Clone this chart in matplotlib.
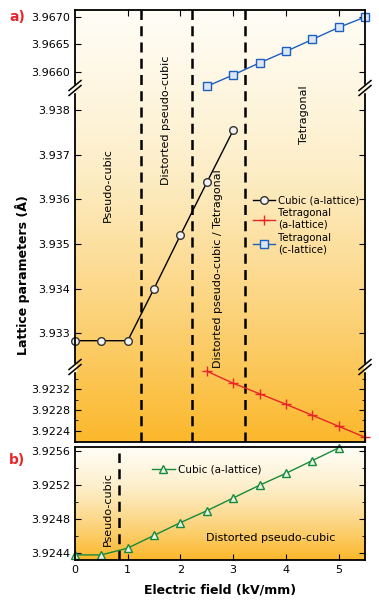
import numpy as np
import matplotlib
matplotlib.use('Agg')
import matplotlib.pyplot as plt
from matplotlib.colors import LinearSegmentedColormap
from matplotlib.lines import Line2D

# ── data ──────────────────────────────────────
field_cubic = [0, 0.5, 1.0, 1.5, 2.0, 2.5, 3.0]
cubic_a     = [3.93283, 3.93283, 3.93283, 3.93400, 3.93520, 3.93638, 3.93755]

field_tet   = [2.5, 3.0, 3.5, 4.0, 4.5, 5.0, 5.5]
tet_c       = [3.96573, 3.96594, 3.96616, 3.96637, 3.96659, 3.96681, 3.96700]
tet_a       = [3.92354, 3.92331, 3.92311, 3.92291, 3.92270, 3.92249, 3.92228]

field_b     = [0, 0.5, 1.0, 1.5, 2.0, 2.5, 3.0, 3.5, 4.0, 4.5, 5.0]
cubic_b     = [3.92438, 3.92438, 3.92446, 3.92461, 3.92476, 3.92490,
               3.92505, 3.92520, 3.92534, 3.92549, 3.92564]

phase_a     = [1.25, 2.22, 3.22]
phase_b     = [0.84]

C_BLUE  = '#1d5fc0'
C_RED   = '#e8262a'
C_GREEN = '#178a3a'

grad = LinearSegmentedColormap.from_list(
    'warm', ['#fffdf6', '#fdeec8', '#fcd47e', '#fbb82c'])

fig = plt.figure(figsize=(3.79, 6.0), dpi=100)
L, W = 75/379, 290/379


def fy(px):
    return 1 - px/600


def gradient_bg(y0, y1):
    bg = fig.add_axes([L, fy(y1), W, fy(y0) - fy(y1)], zorder=0)
    g = np.linspace(0, 1, 256)[:, None] ** 1.1
    bg.imshow(g, aspect='auto', cmap=grad, extent=[0, 5.5, 0, 1], origin='upper')
    bg.set_xlim(0, 5.5)
    bg.set_ylim(0, 1)
    bg.axis('off')
    return bg


def style(ax, top=False, bottom=False):
    ax.set_facecolor('none')
    ax.set_xlim(0, 5.5)
    ax.spines['top'].set_visible(top)
    ax.spines['bottom'].set_visible(bottom)
    for s in ax.spines.values():
        s.set_linewidth(1.3)
    ax.tick_params(direction='in', which='both', right=True, labelsize=8,
                   top=top, bottom=bottom, labelbottom=False, length=4)
    ax.tick_params(which='minor', length=2.5)


# ── panel a ──
bg_a = gradient_bg(10, 442)
for xv in phase_a:
    bg_a.axvline(xv, color='black', lw=1.8, ls=(0, (4, 2.5)))

ax_t = fig.add_axes([L, fy(88), W, fy(10) - fy(88)], zorder=2)
ax_m = fig.add_axes([L, fy(367), W, fy(88) - fy(367)], zorder=2)
ax_l = fig.add_axes([L, fy(442), W, fy(367) - fy(442)], zorder=2)

style(ax_t, top=True)
style(ax_m)
style(ax_l, bottom=True)
ax_t.tick_params(labeltop=False)

ax_t.set_ylim(3.9657, 3.96713)
ax_t.set_yticks([3.9660, 3.9665, 3.9670])
ax_t.set_yticklabels(['3.9660', '3.9665', '3.9670'])
ax_t.set_xticks([1, 2, 3, 4, 5])

ax_m.set_ylim(3.93224, 3.9385)
ax_m.set_yticks([3.933, 3.934, 3.935, 3.936, 3.937, 3.938])
ax_m.set_yticklabels(['3.933', '3.934', '3.935', '3.936', '3.937', '3.938'])
ax_m.set_xticks([])

ax_l.set_ylim(3.92219, 3.92362)
ax_l.set_yticks([3.9224, 3.9228, 3.9232])
ax_l.set_yticklabels(['3.9224', '3.9228', '3.9232'])
ax_l.set_yticks([3.9226, 3.9230, 3.9234], minor=True)
ax_l.set_xticks([])

ax_t.plot(field_tet, tet_c, color=C_BLUE, lw=1, marker='s', ms=5.5,
          mfc='#dbe7f7', mec=C_BLUE, mew=1, clip_on=False)
ax_m.plot(field_cubic, cubic_a, color='black', lw=1, marker='o', ms=5.5,
          mfc='#f2f2f2', mec='#333333', mew=1, clip_on=False)
ax_l.plot(field_tet, tet_a, color=C_RED, lw=1, marker='+', ms=7,
          mew=1, clip_on=False)

# break marks on left and right spines (small gap, then "//")
for ypx in (88, 367):
    for xpx in (75, 365):
        x0, y0 = xpx/379, fy(ypx)
        fig.add_artist(Line2D([x0, x0], [y0 - 2.5/600, y0 + 2.5/600],
                              color='#fff3d6', lw=2.5, zorder=4))
        for d in (-2.5, 2.5):
            fig.add_artist(Line2D([x0 - 6/379, x0 + 6/379],
                                  [y0 + (d - 5)/600, y0 + (d + 5)/600],
                                  color='black', lw=1.1, zorder=5))

# region labels
ax_m.text(0.62, 3.93632, 'Pseudo-cubic', rotation=90, ha='center', va='center',
          fontsize=8)
ax_m.text(1.72, 3.93778, 'Distorted pseudo-cubic', rotation=90, ha='center',
          va='center', fontsize=8, clip_on=False)
ax_m.text(2.72, 3.93444, 'Distorted pseudo-cubic / Tetragonal', rotation=90,
          ha='center', va='center', fontsize=8, clip_on=False)
ax_m.text(4.35, 3.93789, 'Tetragonal', rotation=90, ha='center', va='center',
          fontsize=8, clip_on=False)

handles = [
    Line2D([], [], color='black', lw=1, marker='o', ms=5.5, mfc='#f2f2f2', mec='#333333'),
    Line2D([], [], color=C_RED, lw=1, marker='+', ms=7),
    Line2D([], [], color=C_BLUE, lw=1, marker='s', ms=5.5, mfc='#dbe7f7', mec=C_BLUE),
]
ax_m.legend(handles, ['Cubic (a-lattice)', 'Tetragonal\n(a-lattice)', 'Tetragonal\n(c-lattice)'],
            loc='upper left', bbox_to_anchor=(0.6, 0.63), frameon=False,
            fontsize=7.3, handlelength=2.2, handletextpad=0.3, labelspacing=0.3,
            borderaxespad=0)

# ── panel b ──
bg_b = gradient_bg(447, 560)
for xv in phase_b:
    bg_b.axvline(xv, color='black', lw=1.8, ls=(0, (4, 2.5)), ymax=0.95)

ax_b = fig.add_axes([L, fy(560), W, fy(447) - fy(560)], zorder=2)
style(ax_b, top=True, bottom=True)
ax_b.tick_params(labelbottom=True, top=False)
ax_b.set_ylim(3.92432, 3.92565)
ax_b.set_yticks([3.9244, 3.9248, 3.9252, 3.9256])
ax_b.set_yticklabels(['3.9244', '3.9248', '3.9252', '3.9256'])
ax_b.set_yticks([3.9246, 3.9250, 3.9254], minor=True)
ax_b.set_xticks([0, 1, 2, 3, 4, 5])
ax_b.plot(field_b, cubic_b, color=C_GREEN, lw=1, marker='^', ms=6,
          mfc='#e6f2e6', mec=C_GREEN, mew=1, clip_on=False)
ax_b.text(0.62, 3.92492, 'Pseudo-cubic', rotation=90, ha='center', va='center',
          fontsize=8)
ax_b.text(3.72, 3.92458, 'Distorted pseudo-cubic', ha='center', va='center',
          fontsize=8)
ax_b.legend([Line2D([], [], color=C_GREEN, lw=1, marker='^', ms=6,
                    mfc='#e6f2e6', mec=C_GREEN)], ['Cubic (a-lattice)'],
            loc='upper left', bbox_to_anchor=(0.25, 0.88), frameon=False,
            fontsize=7.5, handlelength=2.2, handletextpad=0.3, borderaxespad=0)
ax_b.set_xlabel('Electric field (kV/mm)', fontsize=9, fontweight='bold', labelpad=6)

fig.text(23/379, fy(275), 'Lattice parameters (Å)', rotation=90, ha='center',
         va='center', fontsize=9, fontweight='bold')
fig.text(17/379, fy(17), 'a)', color='#e8262a', fontsize=10, fontweight='bold',
         ha='center', va='center')
fig.text(17/379, fy(460), 'b)', color='#e8262a', fontsize=10, fontweight='bold',
         ha='center', va='center')

fig.savefig('out.png', dpi=100)
